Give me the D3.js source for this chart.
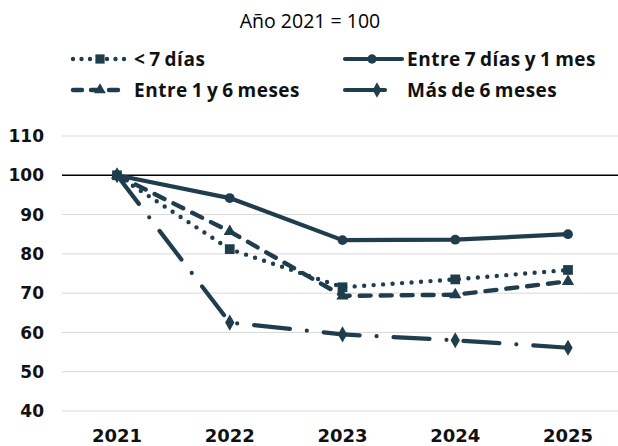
<!DOCTYPE html>
<html><head><meta charset="utf-8">
<script src="https://cdn.jsdelivr.net/npm/d3@7"></script>
<style>body{margin:0;background:#fff;} svg{display:block;}</style>
</head><body>
<svg id="c" width="618" height="446"></svg>
<script>
const years = ["2021","2022","2023","2024","2025"];
const seriesNames = ["< 7 días","Entre 7 días y 1 mes","Entre 1 y 6 meses","Más de 6 meses"];
const menos7 = [100, 81.2, 71.5, 73.5, 75.9];
const entre7y1 = [100, 94.2, 83.5, 83.6, 85.0];
const entre1y6 = [100, 85.7, 69.3, 69.6, 73.0];
const mas6 = [100, 62.5, 59.5, 58.0, 56.1];
const yTicks = [40,50,60,70,80,90,100,110];
const title = "Año 2021 = 100";

const color = "#1f3d4c";
const svg = d3.select("#c");
const x = d3.scalePoint().domain(years).range([117, 568]);
const y = d3.scaleLinear().domain([40,110]).range([411,136]);

svg.append("text").attr("x",310).attr("y",28).attr("text-anchor","middle")
  .attr("font-family","'Open Sans', sans-serif").attr("font-size",19.5).attr("fill","#000").text(title);

// grid
svg.append("g").selectAll("line").data(yTicks.filter(d=>d!==100)).join("line")
  .attr("x1",62).attr("x2",618).attr("y1",d=>y(d)).attr("y2",d=>y(d))
  .attr("stroke","#d9d9d9").attr("stroke-width",1);
svg.append("line").attr("x1",62).attr("x2",618).attr("y1",y(100)).attr("y2",y(100))
  .attr("stroke","#000").attr("stroke-width",1.5);

svg.append("g").selectAll("text").data(yTicks).join("text")
  .attr("x",44).attr("y",d=>y(d)).attr("dy","0.36em").attr("text-anchor","end")
  .attr("font-family","'DejaVu Sans', sans-serif").attr("font-weight",700).attr("font-size",17).attr("fill","#111")
  .text(d=>d);
svg.append("g").selectAll("text").data(years).join("text")
  .attr("x",d=>x(d)).attr("y",442).attr("text-anchor","middle")
  .attr("font-family","'DejaVu Sans', sans-serif").attr("font-weight",700).attr("font-size",18).attr("fill","#111")
  .text(d=>d);

const styles = [
  {vals: menos7, dash:"0 9.5", width:4.4, sym:d3.symbolSquare, size:95},
  {vals: entre7y1, dash:null, width:4.2, sym:d3.symbolCircle, size:75},
  {vals: entre1y6, dash:"11 10", width:4.4, sym:d3.symbolTriangle, size:65},
  {vals: mas6, dash:"36 17 0 17", width:4.2, sym:d3.symbolDiamond, size:75},
];
const line = d3.line().x((d,i)=>x(years[i])).y(d=>y(d));
const drawOrder = [3,2,1,0];
drawOrder.forEach(k=>{
  const s = styles[k];
  svg.append("path").attr("d",line(s.vals)).attr("fill","none").attr("stroke",color)
    .attr("stroke-width",s.width).attr("stroke-linecap","round").attr("stroke-linejoin","round")
    .attr("stroke-dasharray",s.dash);
  svg.append("g").selectAll("path").data(s.vals).join("path")
    .attr("d",d3.symbol().type(s.sym).size(s.size))
    .attr("transform",(d,i)=>`translate(${x(years[i])},${y(d)})`).attr("fill",color);
});

// legend
const leg = [
  {k:0, x1:73, x2:127, mx:100, tx:134, ty:59},
  {k:1, x1:345, x2:402, mx:372, tx:407, ty:59},
  {k:2, x1:73, x2:127, mx:100, tx:134, ty:90},
  {k:3, x1:345, x2:385, mx:377, tx:407, ty:90},
];
const legDash = ["0 8.5", null, "9 9", null];
leg.forEach(l=>{
  const s = styles[l.k];
  svg.append("line").attr("x1",l.x1).attr("x2",l.x2).attr("y1",l.ty).attr("y2",l.ty)
    .attr("stroke",color).attr("stroke-width",s.width).attr("stroke-linecap","round")
    .attr("stroke-dasharray",legDash[l.k]);
  svg.append("path").attr("d",d3.symbol().type(s.sym).size(s.size*0.9))
    .attr("transform",`translate(${l.mx},${l.ty})`).attr("fill",color);
  svg.append("text").attr("x",l.tx).attr("y",l.ty).attr("dy","0.36em")
    .attr("font-family","'Open Sans', sans-serif").attr("font-weight",700).attr("font-size",19).attr("fill","#111")
    .attr("word-spacing","-1.5").attr("letter-spacing","0.5")
    .text(seriesNames[l.k]);
});
</script>
</body></html>
